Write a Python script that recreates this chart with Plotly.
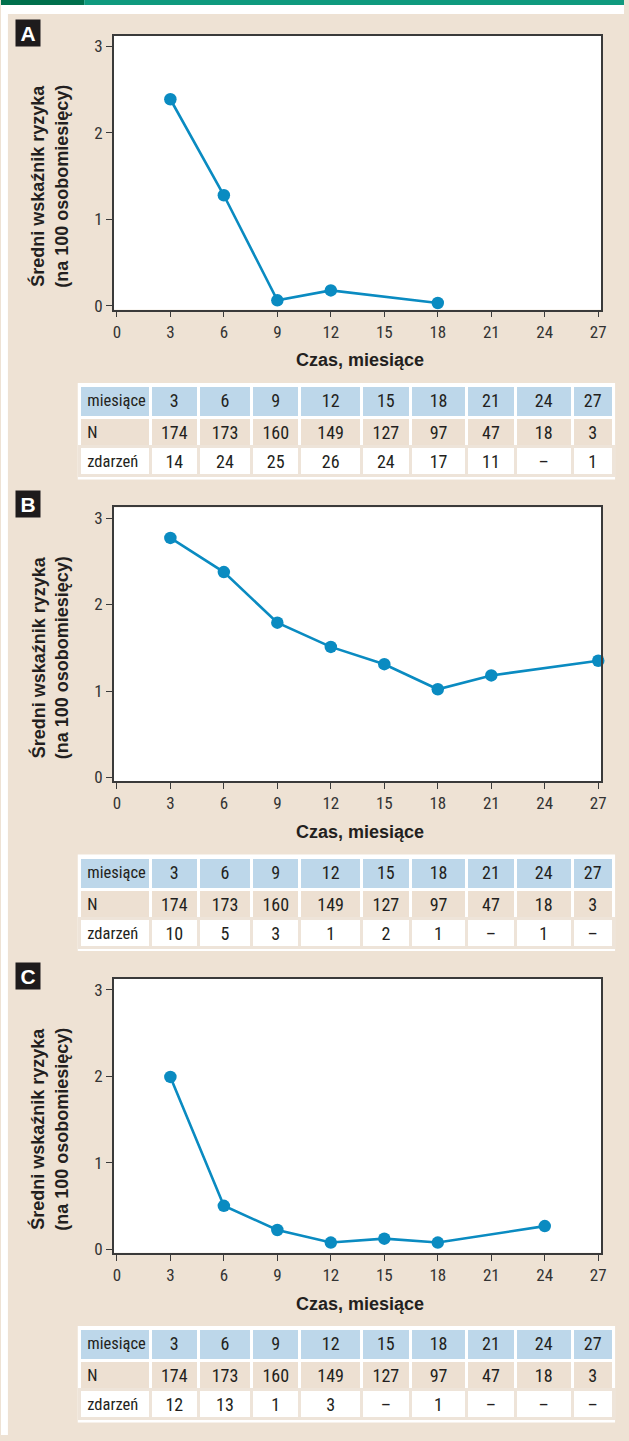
import plotly.graph_objects as go

# ---- data -------------------------------------------------------------
months = [3, 6, 9, 12, 15, 18, 21, 24, 27]
n_at_risk = [174, 173, 160, 149, 127, 97, 47, 18, 3]

events_a = ["14", "24", "25", "26", "24", "17", "11", "–", "1"]
events_b = ["10", "5", "3", "1", "2", "1", "–", "1", "–"]
events_c = ["12", "13", "1", "3", "–", "1", "–", "–", "–"]

rate_a_x = [3, 6, 9, 12, 18]
rate_a_y = [2.39, 1.28, 0.065, 0.18, 0.035]
rate_b_x = [3, 6, 9, 12, 15, 18, 21, 27]
rate_b_y = [2.77, 2.375, 1.79, 1.51, 1.31, 1.02, 1.18, 1.35]
rate_c_x = [3, 6, 9, 12, 15, 18, 24]
rate_c_y = [1.99, 0.50, 0.22, 0.075, 0.12, 0.075, 0.265]

panel_letters = ["A", "B", "C"]
x_ticks = [0, 3, 6, 9, 12, 15, 18, 21, 24, 27]
y_ticks = [0, 1, 2, 3]
row_labels = ["miesiące", "N", "zdarzeń"]

# ---- styling ----------------------------------------------------------
W, H = 629, 1441
BG = "#EEE2D4"
LINE_BLUE = "#0A8BC1"
HEAD_BLUE = "#BDD7EA"
ROW_BEIGE = "#EDE0D2"
SEP_BEIGE = "#EEE4D9"
AXIS = "#3A3A3A"
TXT = "#231F20"
NARROW = "Roboto Condensed, Liberation Sans, Arial, sans-serif"
SANS = "Liberation Sans, Arial, Helvetica, sans-serif"

PANEL_STEP = 473.5            # vertical distance between panels, px
col_widths = [69.5, 49, 53.5, 49, 62, 49.5, 57, 49, 57.5, 41.5]


def px_x(v):
    return v / W


def px_y(v):
    return 1 - v / H


fig = go.Figure()

series = [(rate_a_x, rate_a_y, events_a),
          (rate_b_x, rate_b_y, events_b),
          (rate_c_x, rate_c_y, events_c)]

annotations = []
shapes = []

for i, (xs, ys, ev) in enumerate(series):
    off = i * PANEL_STEP
    xa = "x" if i == 0 else f"x{i + 1}"
    ya = "y" if i == 0 else f"y{i + 1}"

    fig.add_trace(go.Scatter(
        x=xs, y=ys, mode="lines+markers",
        line=dict(color=LINE_BLUE, width=2.6),
        marker=dict(color=LINE_BLUE, size=12.5),
        xaxis=xa, yaxis=ya, showlegend=False, cliponaxis=False,
    ))

    axis_common = dict(
        showline=True, mirror=True, linecolor=AXIS, linewidth=1.5,
        ticks="outside", ticklen=6, tickwidth=1.3, tickcolor=AXIS,
        showgrid=False, zeroline=False,
        tickfont=dict(family=NARROW, size=17, color="#333333"),
    )
    xkey = "xaxis" if i == 0 else f"xaxis{i + 1}"
    ykey = "yaxis" if i == 0 else f"yaxis{i + 1}"
    fig.update_layout({
        xkey: dict(axis_common, domain=[px_x(114), px_x(606)],
                   range=[-0.167, 27.167], tickmode="array",
                   tickvals=x_ticks, anchor=ya),
        ykey: dict(axis_common, domain=[px_y(311 + off), px_y(36 + off)],
                   range=[-0.043, 3.123], tickmode="array",
                   tickvals=y_ticks, anchor=xa),
    })

    # panel letter
    annotations.append(dict(
        text=f"<b>{panel_letters[i]}</b>", xref="paper", yref="paper",
        x=px_x(27), y=px_y(33 + off), xanchor="center", yanchor="middle",
        showarrow=False, bgcolor="#1E1B1C", width=20, height=22, borderpad=2,
        font=dict(family=SANS, size=21, color="white"),
    ))
    # y title
    annotations.append(dict(
        text="<b>Średni wskaźnik ryzyka<br>(na 100 osobomiesięcy)</b>",
        xref="paper", yref="paper", x=px_x(49), y=px_y(187 + off),
        xanchor="center", yanchor="middle", textangle=-90, showarrow=False,
        font=dict(family=SANS, size=18, color=TXT),
    ))
    # x title
    annotations.append(dict(
        text="<b>Czas, miesiące</b>", xref="paper", yref="paper",
        x=px_x(362), y=px_y(362 + off), xanchor="center", yanchor="middle",
        showarrow=False, font=dict(family=SANS, size=18, color=TXT),
    ))

    # white frame behind the table
    shapes.append(dict(type="rect", xref="paper", yref="paper", layer="below",
                       x0=px_x(77.5), x1=px_x(620), y0=px_y(481.5 + off),
                       y1=px_y(384.5 + off), fillcolor="white",
                       line=dict(width=0)))

    n_cols = len(months) + 1
    header_vals = [row_labels[0]] + [str(m) for m in months]
    cell_cols = [[row_labels[1], row_labels[2]]] + \
        [[str(n), e] for n, e in zip(n_at_risk, ev)]
    font_sizes = [16.5] + [18] * (n_cols - 1)
    fig.add_trace(go.Table(
        domain=dict(x=[px_x(79), px_x(618.5)],
                    y=[px_y(484 + off), px_y(387.5 + off)]),
        columnwidth=[col_widths[0] + 2] + col_widths[1:],
        header=dict(values=header_vals, height=32,
                    fill=dict(color=HEAD_BLUE),
                    line=dict(color="white", width=3),
                    align=["left"] + ["center"] * (n_cols - 1),
                    font=dict(family=NARROW, size=font_sizes, color=TXT)),
        cells=dict(values=cell_cols, height=29,
                   fill=dict(color=[[ROW_BEIGE, "white"]] * n_cols),
                   line=dict(color=[["white", SEP_BEIGE]] * n_cols, width=3),
                   align=["left"] + ["center"] * (n_cols - 1),
                   font=dict(family=NARROW, size=font_sizes, color=TXT)),
    ))

# top strip: white band with two-tone green bar, white left edge
shapes += [
    dict(type="rect", xref="paper", yref="paper", x0=0, x1=1,
         y0=px_y(14), y1=1, fillcolor="white", line=dict(width=0)),
    dict(type="rect", xref="paper", yref="paper", x0=0, x1=px_x(7),
         y0=0, y1=1, fillcolor="white", line=dict(width=0)),
    dict(type="rect", xref="paper", yref="paper", x0=0, x1=px_x(84),
         y0=px_y(5), y1=1, fillcolor="#00704C", line=dict(width=0)),
    dict(type="rect", xref="paper", yref="paper", x0=px_x(84), x1=1,
         y0=px_y(5), y1=1, fillcolor="#0F9A7E", line=dict(width=0)),
]

fig.update_layout(
    width=W, height=H, margin=dict(l=0, r=0, t=0, b=0),
    paper_bgcolor=BG, plot_bgcolor="white",
    annotations=annotations, shapes=shapes, showlegend=False,
)

fig.write_html("out.html")
